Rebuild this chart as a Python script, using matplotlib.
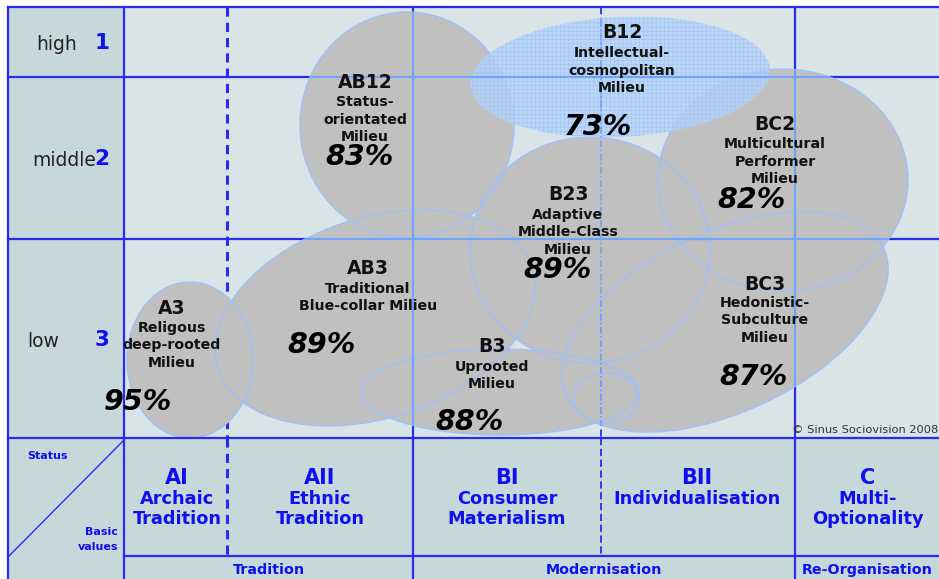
import matplotlib
matplotlib.use("Agg")
import matplotlib.pyplot as plt
from matplotlib.patches import Ellipse, Rectangle
from matplotlib.lines import Line2D

plt.rcParams['font.family'] = ['DejaVu Sans']
plt.rcParams['hatch.linewidth'] = 0.5

# ---------------- data ----------------
codes = ["AB12", "B12", "BC2", "B23", "AB3", "A3", "B3", "BC3"]
names = [["Status-", "orientated", "Milieu"],
         ["Intellectual-", "cosmopolitan", "Milieu"],
         ["Multicultural", "Performer", "Milieu"],
         ["Adaptive", "Middle-Class", "Milieu"],
         ["Traditional", "Blue-collar Milieu"],
         ["Religous", "deep-rooted", "Milieu"],
         ["Uprooted", "Milieu"],
         ["Hedonistic-", "Subculture", "Milieu"]]
shares = [83, 73, 82, 89, 89, 95, 88, 87]

status_levels = ["high", "middle", "low"]
status_nums = ["1", "2", "3"]
value_codes = ["AI", "AII", "BI", "BII", "C"]
value_names = [["Archaic", "Tradition"], ["Ethnic", "Tradition"],
               ["Consumer", "Materialism"], ["Individualisation"],
               ["Multi-", "Optionality"]]
value_groups = ["Tradition", "Modernisation", "Re-Organisation"]

# ---------------- layout (pixel coords) ----------------
W, H = 939, 579
X0, XL, XR = 8, 124, 939
Y0, YH, YM, YB, YF = 7, 77, 239, 438, 556
col_x = [124, 227, 413, 601, 795, 939]
header_x = [177, 320, 507, 697, 868]
group_bounds = [(124, 413), (413, 795), (795, 939)]
row_bounds = [(7, 77), (77, 239), (239, 438)]
status_label_right = [77, 96, 59]

# ellipse geometry: centre x, centre y, width, height, angle
shape_geo = {
    "AB12": (407, 125, 214, 226, 0),
    "B12": (620, 77, 300, 120, -3),
    "BC2": (783, 180, 250, 222, 0),
    "B23": (590, 250, 240, 226, 0),
    "AB3": (375, 318, 330, 200, -18),
    "A3": (190, 360, 126, 156, 0),
    "B3": (500, 392, 276, 86, 0),
    "BC3": (725, 322, 350, 180, -25),
}
extra_geo = [(606, 398, 66, 50, 0)]  # small lobe of BC3

# label placement: code (x, y), first name line y, percent (x, y)
label_pos = {
    "AB12": ((365, 82), 102, (360, 157)),
    "B12": ((622, 32), 53, (598, 127)),
    "BC2": ((775, 124), 144, (752, 200)),
    "B23": ((568, 194), 215, (557, 270)),
    "AB3": ((368, 268), 289, (322, 345)),
    "A3": ((172, 309), 328, (138, 402)),
    "B3": ((492, 347), 367, (470, 422)),
    "BC3": ((765, 284), 303, (753, 377)),
}

BG_LABEL = "#c6d8da"
BG_CHART = "#d8e4e5"
GREY = "#c0c0c0"
EDGE = "#9ebffc"
DARK_BLUE = "#2a2af0"
LIGHT_LINE = "#6ea4fb"
TXT_BLUE = "#1010ee"

fig = plt.figure(figsize=(W / 100, H / 100), dpi=100)
ax = fig.add_axes([0, 0, 1, 1])
ax.set_xlim(0, W)
ax.set_ylim(H, 0)
ax.axis('off')
fig.patch.set_facecolor('white')

# backgrounds
ax.add_patch(Rectangle((X0, Y0), XR - X0, H - Y0, facecolor=BG_LABEL, edgecolor='none', zorder=0))
ax.add_patch(Rectangle((XL, Y0), XR - XL, YB - Y0, facecolor=BG_CHART, edgecolor='none', zorder=0))


def hline(y, x1, x2, z=1, color=DARK_BLUE, lw=1.6, ls='-', clip=None):
    ln = Line2D([x1, x2], [y, y], color=color, lw=lw, ls=ls, zorder=z)
    ax.add_line(ln)
    if clip is not None:
        ln.set_clip_path(clip)
    return ln


def vline(x, y1, y2, z=1, color=DARK_BLUE, lw=1.6, ls='-', clip=None):
    ln = Line2D([x, x], [y1, y2], color=color, lw=lw, ls=ls, zorder=z)
    ax.add_line(ln)
    if clip is not None:
        ln.set_clip_path(clip)
    return ln


hline(Y0, X0, XR, z=5)
for y in (YH, YM):
    hline(y, X0, XR)
hline(YB, X0, XR, z=5)
hline(YF, XL, XR, z=5)
vline(X0, Y0, H, z=5)
vline(XL, Y0, H, z=5)
# chart-area verticals
vline(227, Y0, YB, lw=2.2, ls=(0, (3, 2)))
vline(413, Y0, YB)
vline(601, Y0, YB, lw=1.3, ls=(0, (4, 2)))
vline(795, Y0, YB)
# header verticals
vline(227, YB, YF, z=5, lw=2.2, ls=(0, (3, 2)))
vline(413, YB, H, z=5)
vline(601, YB, YF, z=5, lw=1.3, ls=(0, (4, 2)))
vline(795, YB, H, z=5)
# diagonal in corner cell
ax.add_line(Line2D([X0, XL], [YF + 1, YB + 2], color=DARK_BLUE, lw=1.0, zorder=5))

# shapes
grey_patches = []
for c in codes:
    if c == "B12":
        continue
    cx, cy, w, h, a = shape_geo[c]
    grey_patches.append(Ellipse((cx, cy), w, h, angle=a))
for (cx, cy, w, h, a) in extra_geo:
    grey_patches.append(Ellipse((cx, cy), w, h, angle=a))

for p in grey_patches:
    ax.add_patch(Ellipse(p.center, p.width, p.height, angle=p.angle,
                         facecolor=GREY, edgecolor='none', zorder=2))
for p in grey_patches:
    ax.add_patch(Ellipse(p.center, p.width, p.height, angle=p.angle,
                         facecolor='none', edgecolor=EDGE, lw=1.0, zorder=3))

cx, cy, w, h, a = shape_geo["B12"]
ax.add_patch(Ellipse((cx, cy), w, h, angle=a, facecolor="#b5d3fa", edgecolor='none',
                     alpha=0.78, zorder=3.2))
ax.add_patch(Ellipse((cx, cy), w, h, angle=a, facecolor='none', edgecolor="#a3c6f7",
                     hatch='++++', lw=0, zorder=3.3))

# light grid lines over the shapes
clip_shapes = grey_patches + [Ellipse((cx, cy), w, h, angle=a)]
for p in clip_shapes:
    cp = Ellipse(p.center, p.width, p.height, angle=p.angle, facecolor='none',
                 edgecolor='none')
    ax.add_patch(cp)
    for y in (YH, YM):
        hline(y, XL, XR, z=4, color=LIGHT_LINE, lw=1.5, clip=cp)
    vline(413, Y0, YB, z=4, color=LIGHT_LINE, lw=1.5, clip=cp)
    vline(795, Y0, YB, z=4, color=LIGHT_LINE, lw=1.5, clip=cp)
    vline(601, Y0, YB, z=4, color=LIGHT_LINE, lw=1.2, ls=(0, (4, 1.5, 1, 1.5)), clip=cp)

# milieu labels
for c, nm, s in zip(codes, names, shares):
    (kx, ky), ny, (px, py) = label_pos[c]
    ax.text(kx, ky, c, ha='center', va='center', fontsize=13.5, fontweight='bold',
            color='#111111', zorder=6)
    for i, line in enumerate(nm):
        ax.text(kx, ny + i * 17.5, line, ha='center', va='center', fontsize=10.2,
                fontweight='bold', color='#111111', zorder=6)
    ax.text(px, py, f"{s}%", ha='center', va='center', fontsize=20.5, fontweight='bold',
            fontstyle='italic', color='#000000', zorder=6)

# status labels
for (y1, y2), lvl, num, xr in zip(row_bounds, status_levels, status_nums, status_label_right):
    ym = (y1 + y2) / 2 + 3
    ax.text(xr, ym, lvl, ha='right', va='center', fontsize=13.5,
            color='#222222', zorder=6)
    ax.text(102, ym - 2, num, ha='center', va='center', fontsize=15.5, fontweight='bold',
            color=TXT_BLUE, zorder=6)

# basic value headers
for xm, vc, vn in zip(header_x, value_codes, value_names):
    ax.text(xm, 478, vc, ha='center', va='center', fontsize=15, fontweight='bold',
            color=TXT_BLUE, zorder=6)
    for j, line in enumerate(vn):
        ax.text(xm, 499 + j * 20, line, ha='center', va='center', fontsize=12.8,
                fontweight='bold', color=TXT_BLUE, zorder=6)

for (x1, x2), g in zip(group_bounds, value_groups):
    ax.text((x1 + x2) / 2, 570, g, ha='center', va='center', fontsize=10.3,
            fontweight='bold', color=TXT_BLUE, zorder=6)

ax.text(47, 456, "Status", ha='center', va='center', fontsize=8, fontweight='bold',
        color=TXT_BLUE, zorder=6)
ax.text(118, 532, "Basic", ha='right', va='center', fontsize=8, fontweight='bold',
        color=TXT_BLUE, zorder=6)
ax.text(118, 547, "values", ha='right', va='center', fontsize=8, fontweight='bold',
        color=TXT_BLUE, zorder=6)

ax.text(938, 430, "\u00a9 Sinus Sociovision 2008", ha='right', va='center', fontsize=8.2,
        color='#333333', zorder=6)

fig.savefig("out.png", dpi=100)
